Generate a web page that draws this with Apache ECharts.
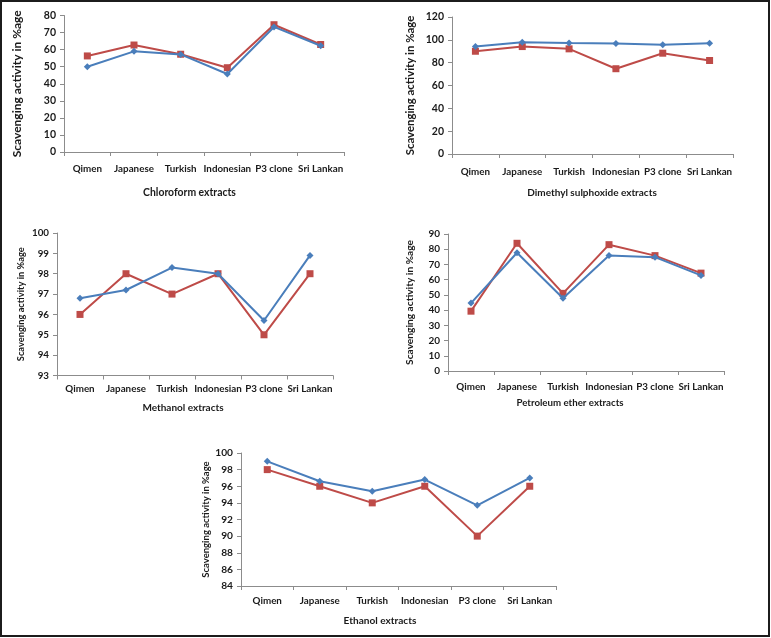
<!DOCTYPE html>
<html>
<head>
<meta charset="utf-8">
<script src="https://cdn.jsdelivr.net/npm/echarts@6/dist/echarts.min.js"></script>
<style>
html,body{margin:0;padding:0;background:#fff;}
#c{width:771px;height:638px;}
</style>
</head>
<body>
<div id="c"></div>
<script>
var categories = ['Qimen','Japanese','Turkish','Indonesian','P3 clone','Sri Lankan'];

var chloroformBlue = [50, 59, 57.2, 45.7, 73.3, 62.3];
var chloroformRed  = [56.3, 62.7, 57.3, 49.4, 74.6, 63];
var dmsoBlue = [94.1, 97.9, 97.3, 96.8, 95.8, 97];
var dmsoRed  = [90, 94.1, 92.1, 74.7, 88.3, 81.9];
var methanolBlue = [96.8, 97.2, 98.3, 98.0, 95.7, 98.9];
var methanolRed  = [96, 98, 97, 98, 95, 98];
var petroleumBlue = [44.6, 77.7, 47.8, 75.9, 74.8, 62.8];
var petroleumRed  = [39.3, 83.9, 51, 83, 75.8, 64.3];
var ethanolBlue = [99, 96.6, 95.4, 96.8, 93.7, 97];
var ethanolRed  = [98, 96, 94, 96, 90, 96];

var panelTitles = ['Chloroform extracts','Dimethyl sulphoxide extracts','Methanol extracts','Petroleum ether extracts','Ethanol extracts'];
var yTitle = 'Scavenging activity in %age';
var yMins = [0, 0, 93, 0, 84];
var yMaxs = [80, 120, 100, 90, 100];
var yIntervals = [10, 20, 1, 10, 2];

var blueSets = [chloroformBlue, dmsoBlue, methanolBlue, petroleumBlue, ethanolBlue];
var redSets = [chloroformRed, dmsoRed, methanolRed, petroleumRed, ethanolRed];

// layout (pixels)
var grids = [
  {left:64, top:15.5, width:280, height:136.5},
  {left:452, top:17, width:281, height:137},
  {left:57, top:233, width:276, height:142.5},
  {left:448, top:234, width:276, height:137},
  {left:241, top:453, width:315, height:133}
];
var catMargins = [12, 12.5, 8.5, 11, 9.5];
var catFont = [9.8, 9.8, 9.8, 9.8, 9.8];
var yFont = [10.5, 10.5, 9.8, 10, 10.2];
var yTitleFont = [12, 11.4, 9.3, 10.2, 9.5];
var yTitleGap = [41, 36, 32, 33, 28];
var titlePos = [[189.5,193],[592,193],[183,407.5],[570,403],[380,621]];
var titleFont = [10.4, 10, 10, 9.7, 10.1];

var FONT = 'Lato';
var BLUE = '#4A7EBB';
var RED = '#BE4B48';
var AXIS = '#8C8C8C';
var TEXT = '#1a1a1a';

var option = {
  animation:false,
  backgroundColor:'#fff',
  grid:[], xAxis:[], yAxis:[], series:[], title:[],
  graphic:[{type:'rect', shape:{x:1,y:1,width:768,height:635}, style:{fill:'none', stroke:'#1c1c1c', lineWidth:2}, z:100}]
};

for (var i=0;i<5;i++){
  option.grid.push(Object.assign({containLabel:false}, grids[i]));
  option.xAxis.push({
    type:'category', gridIndex:i, data:categories, boundaryGap:true,
    axisLine:{lineStyle:{color:AXIS, width:1}},
    axisTick:{show:true, length:4, inside:false, lineStyle:{color:AXIS}},
    axisLabel:{color:TEXT, fontFamily:FONT, fontWeight:'bold', fontSize:catFont[i], margin:catMargins[i], interval:0},
    splitLine:{show:false}
  });
  option.yAxis.push({
    type:'value', gridIndex:i, min:yMins[i], max:yMaxs[i], interval:yIntervals[i],
    name:yTitle, nameLocation:'middle', nameGap:yTitleGap[i], nameRotate:90,
    nameTextStyle:{color:TEXT, fontFamily:FONT, fontWeight:'bold', fontSize:yTitleFont[i]},
    axisLine:{show:true, lineStyle:{color:AXIS, width:1}},
    axisTick:{show:true, length:4, lineStyle:{color:AXIS}},
    axisLabel:{color:TEXT, fontFamily:FONT, fontWeight:'bold', fontSize:yFont[i], margin:8},
    splitLine:{show:false}
  });
  option.series.push({
    type:'line', xAxisIndex:i, yAxisIndex:i, data:blueSets[i],
    symbol:'diamond', symbolSize:7, z:3,
    lineStyle:{color:BLUE, width:2}, itemStyle:{color:BLUE}
  });
  option.series.push({
    type:'line', xAxisIndex:i, yAxisIndex:i, data:redSets[i],
    symbol:'rect', symbolSize:7, z:2,
    lineStyle:{color:RED, width:2}, itemStyle:{color:RED}
  });
  option.title.push({
    text:panelTitles[i], left:titlePos[i][0], top:titlePos[i][1], textAlign:'center', textVerticalAlign:'middle', padding:0,
    textStyle:{color:TEXT, fontFamily:FONT, fontWeight:'bold', fontSize:titleFont[i]}
  });
}

var chart = echarts.init(document.getElementById('c'), null, {renderer:'canvas'});
chart.setOption(option);
</script>
</body>
</html>
